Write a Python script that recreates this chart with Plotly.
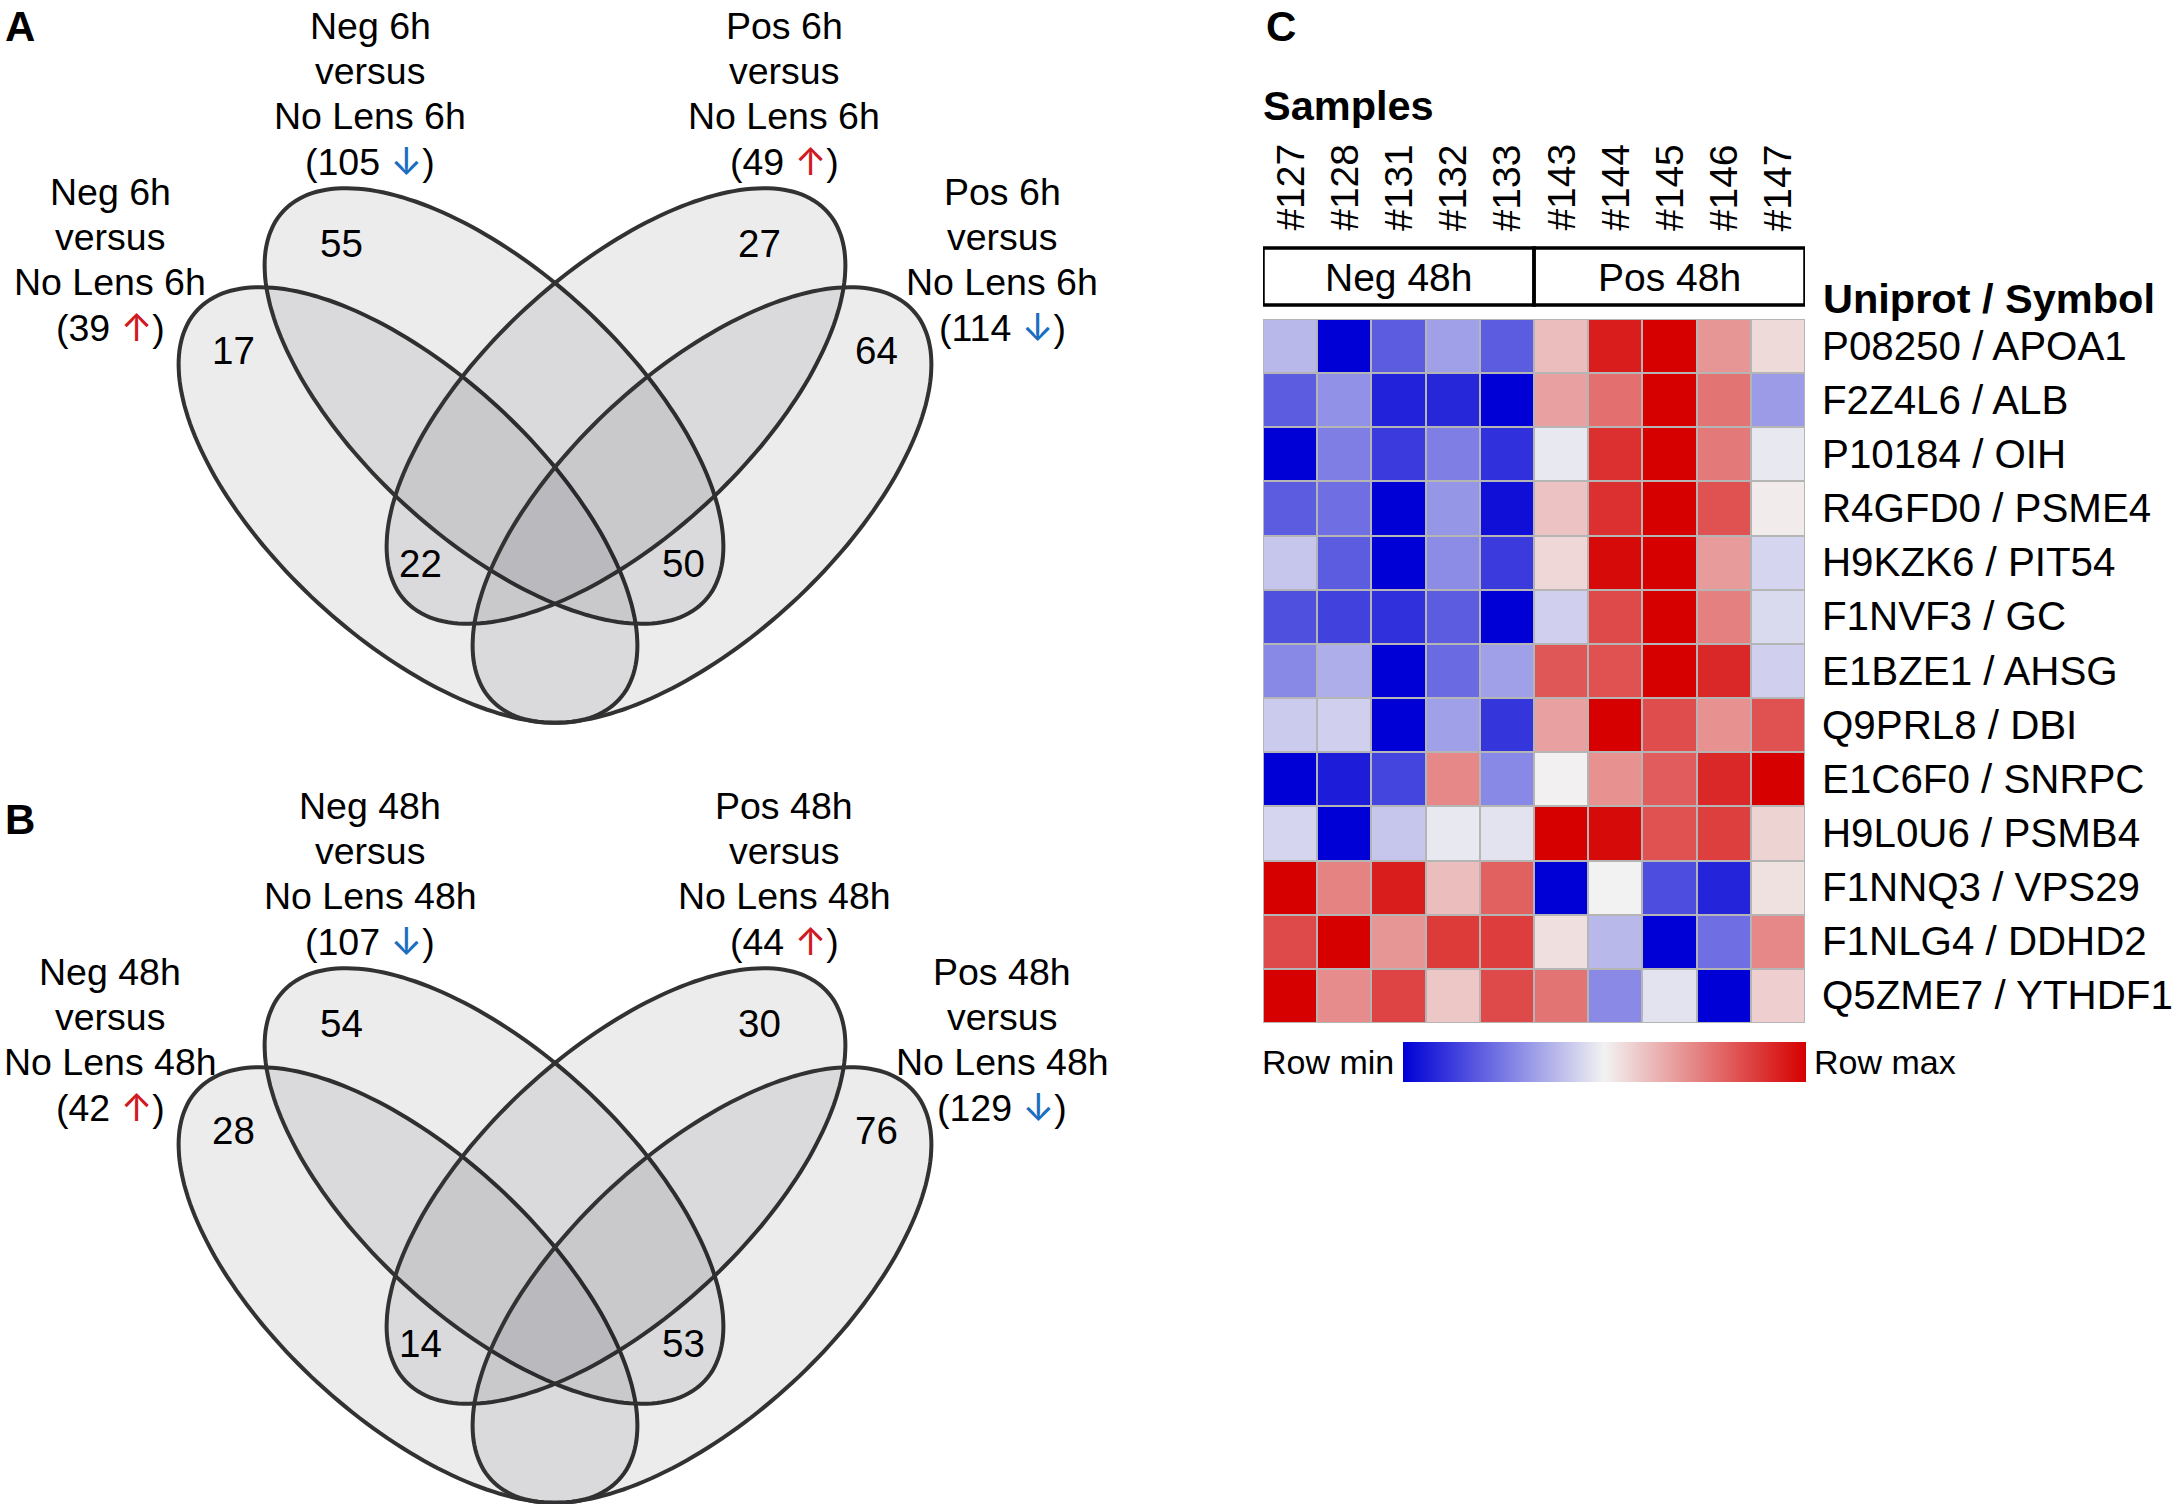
import numpy as np
import plotly.graph_objects as go

W, H = 2176, 1504
FONT = "Liberation Sans, Arial, sans-serif"
RED = "#cf1a24"
BLUE = "#1b6ebf"

# ---------------- data ----------------
samples = ["#127", "#128", "#131", "#132", "#133", "#143", "#144", "#145", "#146", "#147"]
groups = ["Neg 48h", "Pos 48h"]
group_sizes = [5, 5]
proteins = ["P08250 / APOA1", "F2Z4L6 / ALB", "P10184 / OIH", "R4GFD0 / PSME4",
            "H9KZK6 / PIT54", "F1NVF3 / GC", "E1BZE1 / AHSG", "Q9PRL8 / DBI",
            "E1C6F0 / SNRPC", "H9L0U6 / PSMB4", "F1NNQ3 / VPS29", "F1NLG4 / DDHD2",
            "Q5ZME7 / YTHDF1"]
# row-scaled expression (0 = row min, 1 = row max)
z = [
    [0.38, 0.00, 0.19, 0.33, 0.19, 0.61, 0.94, 1.00, 0.69, 0.55],
    [0.19, 0.30, 0.07, 0.08, 0.00, 0.67, 0.77, 1.00, 0.76, 0.32],
    [0.00, 0.26, 0.12, 0.26, 0.10, 0.48, 0.90, 1.00, 0.75, 0.48],
    [0.19, 0.23, 0.00, 0.31, 0.03, 0.60, 0.90, 1.00, 0.83, 0.515],
    [0.41, 0.19, 0.00, 0.29, 0.12, 0.555, 0.98, 1.00, 0.68, 0.44],
    [0.165, 0.135, 0.10, 0.19, 0.00, 0.43, 0.85, 1.00, 0.735, 0.45],
    [0.28, 0.36, 0.00, 0.22, 0.33, 0.82, 0.83, 1.00, 0.92, 0.43],
    [0.42, 0.43, 0.00, 0.33, 0.11, 0.67, 1.00, 0.84, 0.70, 0.83],
    [0.00, 0.06, 0.14, 0.72, 0.28, 0.505, 0.70, 0.81, 0.92, 1.00],
    [0.44, 0.00, 0.41, 0.48, 0.47, 1.00, 0.98, 0.83, 0.87, 0.565],
    [1.00, 0.73, 0.94, 0.61, 0.80, 0.00, 0.50, 0.16, 0.075, 0.535],
    [0.85, 1.00, 0.69, 0.88, 0.875, 0.54, 0.38, 0.00, 0.23, 0.72],
    [1.00, 0.71, 0.86, 0.59, 0.85, 0.76, 0.285, 0.47, 0.00, 0.575],
]

# Venn diagrams: set labels (comparison, reference, total, direction)
venn_a_sets = [("Neg 6h", "No Lens 6h", 39, "up"), ("Neg 6h", "No Lens 6h", 105, "down"),
               ("Pos 6h", "No Lens 6h", 49, "up"), ("Pos 6h", "No Lens 6h", 114, "down")]
venn_b_sets = [("Neg 48h", "No Lens 48h", 42, "up"), ("Neg 48h", "No Lens 48h", 107, "down"),
               ("Pos 48h", "No Lens 48h", 44, "up"), ("Pos 48h", "No Lens 48h", 129, "down")]
# region counts: [set1 only, set2 only, set3 only, set4 only, set1&set3, set2&set4]
venn_a_counts = [17, 55, 27, 64, 22, 50]
venn_b_counts = [28, 54, 30, 76, 14, 53]

# ---------------- layout geometry (page pixels) ----------------
ELL_A, ELL_B, ELL_ANG = 287, 133, 42.7
ell_centers = [(408, 505), (494, 406), (616, 406), (702, 505)]
ell_angles = [ELL_ANG, ELL_ANG, 180 - ELL_ANG, 180 - ELL_ANG]
set_label_pos = [(110, 192), (370, 26), (784, 26), (1002, 192)]
count_pos = [(233, 350), (341, 243), (759, 243), (876, 350), (420, 563), (683, 563)]
panel_offsets = {"A": 0, "B": 780}
LINE_H = 45

fig = go.Figure()

# heatmap
hm_x0, hm_x1, hm_y0, hm_y1 = 1263, 1805, 319, 1023
cscale = [[0, "rgb(0,0,214)"], [0.5, "rgb(242,242,242)"], [1, "rgb(214,0,0)"]]
fig.add_trace(go.Heatmap(
    z=z, x=list(range(len(samples))), y=list(range(len(proteins))),
    xaxis="x2", yaxis="y2", colorscale=cscale, zmin=0, zmax=1,
    xgap=2, ygap=2, hoverinfo="skip",
    colorbar=dict(orientation="h", x=(1403 + 1806) / 2 / W, xanchor="center",
                  y=1 - 1042 / H, yanchor="top", len=403, lenmode="pixels",
                  thickness=40, thicknessmode="pixels", outlinewidth=0,
                  showticklabels=False, ticks="", xpad=0, ypad=0),
))

shapes = []
annotations = []


def ellipse_path(cx, cy, a, b, ang_deg, n=200):
    t = np.linspace(0, 2 * np.pi, n, endpoint=False)
    ang = np.radians(ang_deg)
    x = cx + a * np.cos(t) * np.cos(ang) - b * np.sin(t) * np.sin(ang)
    y = cy + a * np.cos(t) * np.sin(ang) + b * np.sin(t) * np.cos(ang)
    return "M " + " L ".join(f"{xi:.1f},{yi:.1f}" for xi, yi in zip(x, y)) + " Z"


def arrow(direction):
    sty = "font-family:Inter, DejaVu Sans, sans-serif;font-size:38px"
    if direction == "up":
        return f"<span style='color:{RED};{sty}'>↑</span>"
    return f"<span style='color:{BLUE};{sty}'>↓</span>"


def txt(x, y, text, size, xanchor="center", xref="x", yref="y", **kw):
    annotations.append(dict(x=x, y=y, xref=xref, yref=yref, text=text, showarrow=False,
                            xanchor=xanchor, yanchor=kw.pop("yanchor", "middle"),
                            font=dict(size=size, color="black", family=FONT), **kw))


for panel, sets, counts in [("A", venn_a_sets, venn_a_counts), ("B", venn_b_sets, venn_b_counts)]:
    dy = panel_offsets[panel]
    for (cx, cy), ang in zip(ell_centers, ell_angles):
        shapes.append(dict(type="path", xref="x", yref="y",
                           path=ellipse_path(cx, cy + dy, ELL_A, ELL_B, ang),
                           fillcolor="rgba(10,10,30,0.08)",
                           line=dict(color="rgb(50,50,50)", width=4)))
    for (comp, ref, total, d), (lx, ly) in zip(sets, set_label_pos):
        lines = [comp, "versus", ref, f"({total} {arrow(d)})"]
        for k, t in enumerate(lines):
            txt(lx, ly + dy + k * LINE_H, t, 37.5)
    for c, (nx, ny) in zip(counts, count_pos):
        txt(nx, ny + dy, str(c), 38.5)
    txt(3, 26 + (793 if panel == "B" else 0), f"<b>{panel}</b>", 42, xanchor="left")

txt(1264, 26, "<b>C</b>", 42, xanchor="left")
txt(1261, 105, "<b>Samples</b>", 41.5, xanchor="left")
txt(1821, 298, "<b>Uniprot / Symbol</b>", 41.5, xanchor="left")

# sample labels (rotated)
for i, s in enumerate(samples):
    txt(i, 233, s, 39, xref="x2", textangle=-90, yanchor="bottom")

# group boxes
start = -0.5
for g, n in zip(groups, group_sizes):
    shapes.append(dict(type="rect", xref="x2", yref="y", x0=start, x1=start + n, y0=248, y1=305,
                       line=dict(color="black", width=3.5), fillcolor="rgba(0,0,0,0)"))
    txt(start + n / 2, 277, g, 39, xref="x2")
    start += n

# grey grid behind heatmap
shapes.append(dict(type="rect", xref="x2", yref="y2", x0=-0.5, x1=len(samples) - 0.5,
                   y0=-0.5, y1=len(proteins) - 0.5, layer="below",
                   fillcolor="#b5b5b5", line=dict(color="#b5b5b5", width=2)))

# row labels
for j, p in enumerate(proteins):
    txt(1820, j, p, 40.3, xanchor="left", yref="y2")

txt(1396, 1062, "Row min", 34, xanchor="right")
txt(1812, 1062, "Row max", 34, xanchor="left")

fig.update_layout(
    width=W, height=H, margin=dict(l=0, r=0, t=0, b=0),
    paper_bgcolor="white", plot_bgcolor="white", showlegend=False,
    xaxis=dict(range=[0, W], domain=[0, 1], visible=False, fixedrange=True),
    yaxis=dict(range=[H, 0], domain=[0, 1], visible=False, fixedrange=True),
    xaxis2=dict(range=[-0.5, len(samples) - 0.5], domain=[hm_x0 / W, hm_x1 / W],
                visible=False, anchor="y2", fixedrange=True),
    yaxis2=dict(range=[len(proteins) - 0.5, -0.5], domain=[1 - hm_y1 / H, 1 - hm_y0 / H],
                visible=False, anchor="x2", fixedrange=True),
    shapes=shapes, annotations=annotations,
    font=dict(family=FONT),
)

# place the figure flush with the window corner (remove default page margin)
fig.write_html("out.html", config={"displayModeBar": False},
               post_script="document.body.style.margin='0px';document.body.style.overflow='hidden';")
